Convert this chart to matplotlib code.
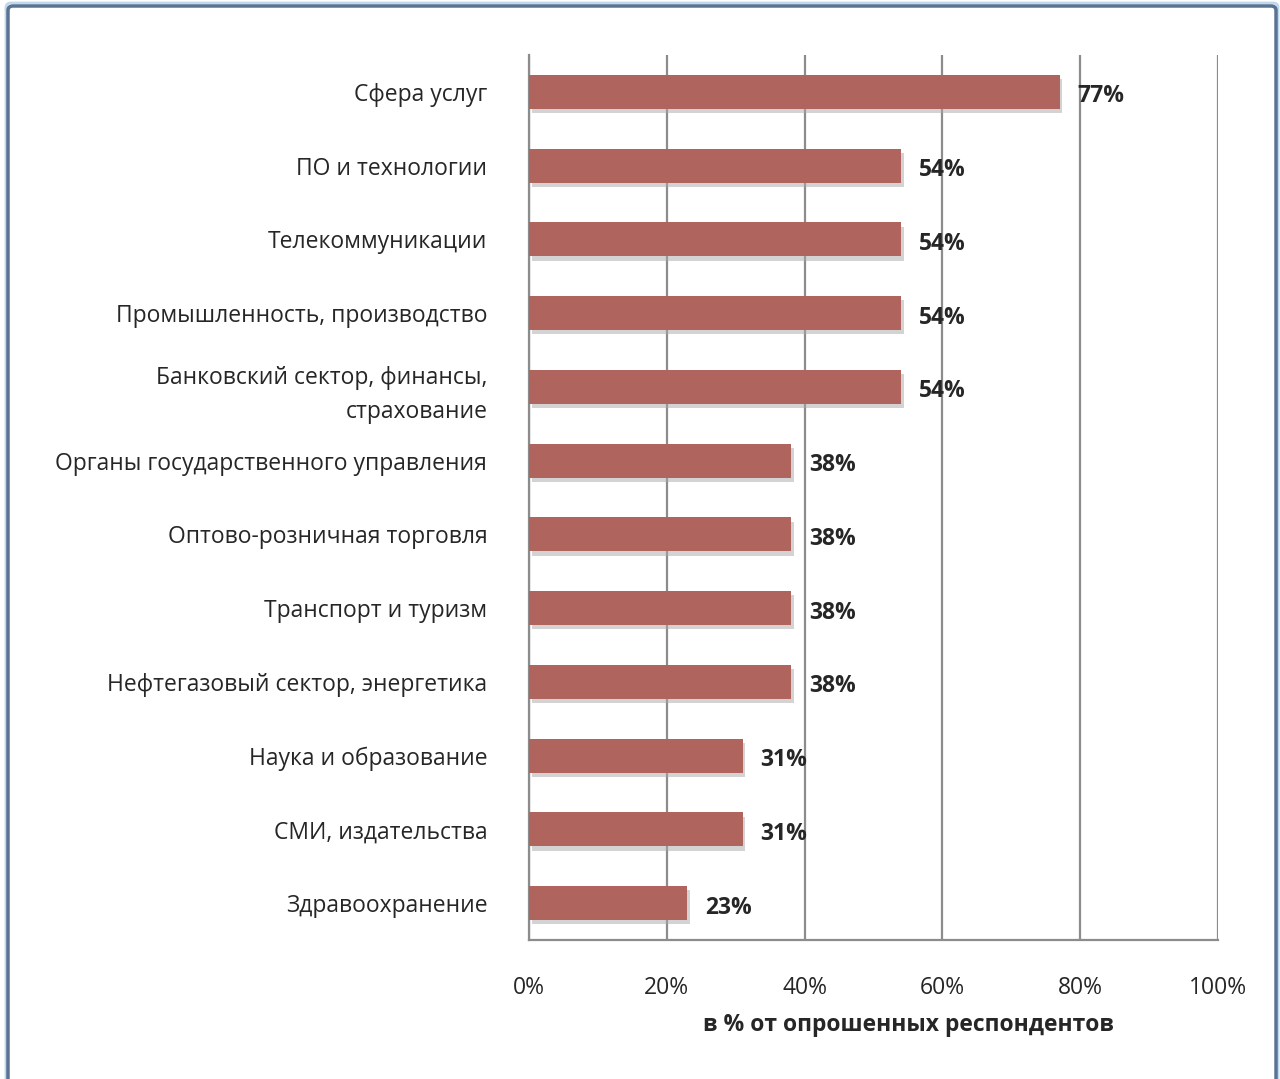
import matplotlib
matplotlib.use("Agg")
import matplotlib.pyplot as plt
from matplotlib import patheffects
from matplotlib.patches import FancyBboxPatch

plt.rcParams['font.family'] = ['Open Sans', 'DejaVu Sans']

categories = [
    "Сфера услуг",
    "ПО и технологии",
    "Телекоммуникации",
    "Промышленность, производство",
    "Банковский сектор, финансы,\nстрахование",
    "Органы государственного управления",
    "Оптово-розничная торговля",
    "Транспорт и туризм",
    "Нефтегазовый сектор, энергетика",
    "Наука и образование",
    "СМИ, издательства",
    "Здравоохранение",
]
values = [77, 54, 54, 54, 54, 38, 38, 38, 38, 31, 31, 23]
x_ticks = [0, 20, 40, 60, 80, 100]
x_tick_labels = ["0%", "20%", "40%", "60%", "80%", "100%"]
x_title = "в % от опрошенных респондентов"

bar_color = "#B0645E"
grid_color = "#8C8C8C"
text_color = "#262626"

fig = plt.figure(figsize=(12.8, 10.79), dpi=100)
ax = fig.add_axes([0.4133, 0.1288, 0.5383, 0.8202])

ypos = list(range(len(categories)))
shadow = [patheffects.SimplePatchShadow(offset=(2, -3), shadow_rgbFace="#A8A8A8", alpha=0.5),
          patheffects.Normal()]
bars = ax.barh(ypos, values, height=0.46, color=bar_color, zorder=3)
for b in bars:
    b.set_path_effects(shadow)

for y, v in zip(ypos, values):
    ax.text(v + 2.6, y + 0.06, f"{v}%", ha="left", va="center",
            fontsize=16.5, fontweight="bold", color=text_color, zorder=4)

ax.set_xlim(0, 100)
ax.set_ylim(len(categories) - 0.5, -0.5)
ax.set_xticks(x_ticks)
ax.set_xticklabels(x_tick_labels, fontsize=16.5, color=text_color)
ax.set_yticks(ypos)
ax.set_yticklabels(categories, fontsize=16.5, color=text_color, linespacing=1.55)
ax.tick_params(axis="x", length=0, pad=26)
ax.tick_params(axis="y", length=0, pad=30)

ax.grid(axis="x", color=grid_color, linewidth=1.6, zorder=0)
ax.set_axisbelow(True)
for side in ["top", "right"]:
    ax.spines[side].set_visible(False)
for side in ["left", "bottom"]:
    ax.spines[side].set_color(grid_color)
    ax.spines[side].set_linewidth(1.6)

fig.text(908 / 1280, 1 - 1025 / 1079, x_title, ha="center", va="center",
         fontsize=16.5, fontweight="bold", color=text_color)

# outer frame around the chart area
frame = FancyBboxPatch((8 / 1280, -0.05), (1276 - 8) / 1280, 1.05 - 6 / 1079,
                       boxstyle="round,pad=0,rounding_size=0.004",
                       transform=fig.transFigure, fill=False,
                       edgecolor="#5B7393", linewidth=2.5, zorder=10)
fig.patches.append(frame)
glow = FancyBboxPatch((6 / 1280, -0.05), (1278 - 6) / 1280, 1.05 - 3 / 1079,
                      boxstyle="round,pad=0,rounding_size=0.004",
                      transform=fig.transFigure, fill=False,
                      edgecolor="#BFD8EE", linewidth=2.0, zorder=9)
fig.patches.append(glow)

fig.savefig("out.png", dpi=100)
